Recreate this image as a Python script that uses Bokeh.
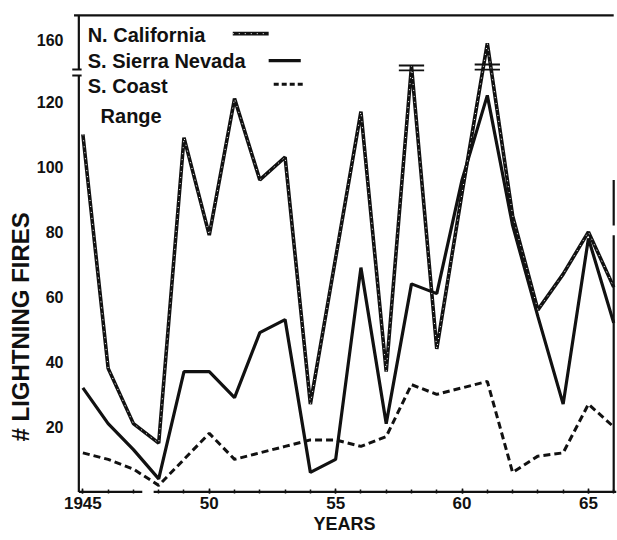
from bokeh.plotting import figure
from bokeh.models import FixedTicker, Label, Title
from bokeh.embed import file_html
from bokeh.resources import INLINE

# ---- data ----
years = list(range(1945, 1967))
n_california = [110, 38, 21, 15, 109, 79, 121, 96, 103, 27, 72, 117, 37, 131, 44, 92, 138, 85, 56, 67, 80, 63]
s_sierra_nevada = [32, 21, 13, 4, 37, 37, 29, 49, 53, 6, 10, 69, 21, 64, 61, 96, 122, 82, 54, 27, 78, 52]
s_coast_range = [12, 10, 7, 2, 10, 18, 10, 12, 14, 16, 16, 14, 17, 33, 30, 32, 34, 6, 11, 12, 27, 20]

x_tick_years = [1945, 1950, 1955, 1960, 1965]
x_tick_labels = ["1945", "50", "55", "60", "65"]
y_tick_values = [20, 40, 60, 80, 100, 120, 139]
y_tick_labels = ["20", "40", "60", "80", "100", "120", "160"]

INK = "#111111"
FONT = "Liberation Sans"

p = figure(width=617, height=540, x_range=(1944.55, 1966.15), y_range=(-0.5, 147.5),
           output_backend="svg", toolbar_location=None,
           min_border_left=71, min_border_right=0, min_border_top=12, min_border_bottom=47)
p.outline_line_color = None
p.grid.grid_line_color = None
p.background_fill_color = "white"
p.border_fill_color = "white"

# x axis
p.xaxis.ticker = FixedTicker(ticks=x_tick_years, minor_ticks=years)
p.xaxis.major_label_overrides = dict(zip(x_tick_years, x_tick_labels))
p.xaxis.axis_line_color = None
p.xaxis.major_tick_in = 5
p.xaxis.major_tick_out = 0
p.xaxis.minor_tick_in = 4
p.xaxis.minor_tick_out = 0
p.xaxis.major_tick_line_color = INK
p.xaxis.minor_tick_line_color = INK
p.xaxis.major_tick_line_width = 1.5
p.xaxis.minor_tick_line_width = 1.5
p.xaxis.major_label_text_font = FONT
p.xaxis.major_label_text_font_style = "bold"
p.xaxis.major_label_text_font_size = "17px"
p.xaxis.major_label_text_color = INK
p.xaxis.major_label_standoff = 3

# y axis
p.yaxis.ticker = FixedTicker(ticks=y_tick_values)
p.yaxis.major_label_overrides = dict(zip(y_tick_values, y_tick_labels))
p.yaxis.axis_line_color = None
p.yaxis.major_tick_line_color = None
p.yaxis.minor_tick_line_color = None
p.yaxis.major_label_text_font = FONT
p.yaxis.major_label_text_font_style = "bold"
p.yaxis.major_label_text_font_size = "16px"
p.yaxis.major_label_text_color = INK
p.yaxis.major_label_standoff = 2

# axis titles as side titles
p.add_layout(Title(text="# LIGHTNING FIRES", align="left", offset=52, standoff=0,
                   text_font=FONT, text_font_size="24px", text_font_style="bold",
                   text_color=INK), "left")
p.add_layout(Title(text="YEARS", align="center", standoff=0,
                   text_font=FONT, text_font_size="18px", text_font_style="bold",
                   text_color=INK), "below")

# hand-drawn frame: left axis with break, top line, bottom axis, right edge
frame_w = 2.2
p.segment(x0=[1944.84, 1944.84], y0=[0, 130.0], x1=[1944.84, 1944.84], y1=[128.1, 146.6],
          line_color=INK, line_width=frame_w)
p.segment(x0=[1944.58, 1944.58], y0=[130.0, 128.1], x1=[1944.95, 1944.95], y1=[130.0, 128.1],
          line_color=INK, line_width=2)
p.segment(x0=[1944.65], y0=[146.6], x1=[1966.0], y1=[146.6], line_color=INK, line_width=frame_w)
p.segment(x0=[1944.84, 1947.8], y0=[0, 0], x1=[1947.35, 1966.1], y1=[0, 0],
          line_color=INK, line_width=frame_w)
p.segment(x0=[1966.0, 1966.0], y0=[96, 79], x1=[1966.0, 1966.0], y1=[82, 0],
          line_color=INK, line_width=frame_w)

# series
p.line(years, s_coast_range, line_color=INK, line_width=3, line_dash="7 4")
p.line(years, s_sierra_nevada, line_color=INK, line_width=3.2)
p.line(years, n_california, line_color=INK, line_width=3.6)
p.line(years, n_california, line_color="white", line_width=1.0, line_dash="1 5")

# off-scale break marks on N. California peaks
p.segment(x0=[1957.5, 1957.5, 1960.5, 1960.5], y0=[131.2, 129.7, 131.5, 129.9],
          x1=[1958.5, 1958.5, 1961.5, 1961.5], y1=[131.2, 129.7, 131.5, 129.9],
          line_color=INK, line_width=1.8)

# legend (hand lettered in original)
legend_names = ["N. California", "S. Sierra Nevada", "S. Coast"]
legend_y = [140.7, 132.7, 125.0]
for name, ly in zip(legend_names, legend_y):
    p.add_layout(Label(x=1945.19, y=ly, text=name, text_font=FONT, text_font_size="20px",
                       text_font_style="bold", text_color=INK,
                       text_baseline="middle", text_align="left"))
p.add_layout(Label(x=1945.70, y=115.8, text="Range", text_font=FONT, text_font_size="20px",
                   text_font_style="bold", text_color=INK,
                   text_baseline="middle", text_align="left"))
p.line([1950.93, 1952.35], [141.0, 141.0], line_color=INK, line_width=3.6)
p.line([1950.93, 1952.35], [141.0, 141.0], line_color="white", line_width=1.0, line_dash="1 5")
p.line([1952.35, 1953.62], [132.7, 132.7], line_color=INK, line_width=3.2)
p.line([1952.55, 1953.7], [125.4, 125.4], line_color=INK, line_width=3, line_dash="5 3")

open("out.html", "w").write(file_html(p, INLINE))
